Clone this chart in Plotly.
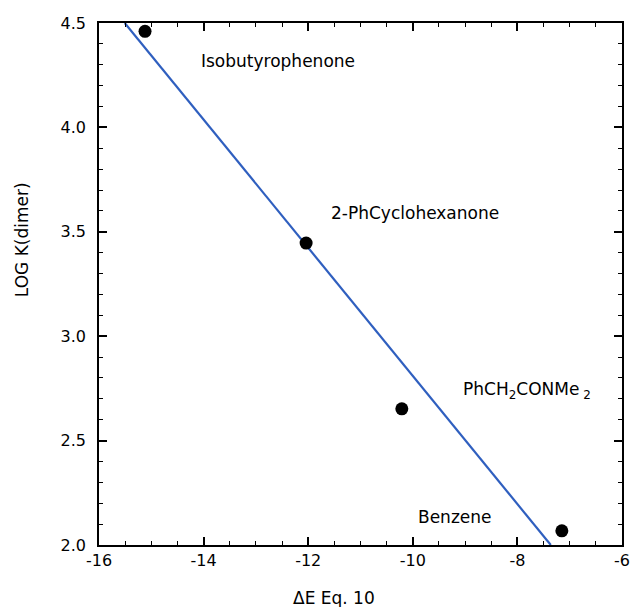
import numpy as np
import plotly.graph_objects as go

# Interaction energy (Eq. 10) vs. log of the dimerisation constant
delta_e = [-15.12, -12.04, -10.21, -7.15]
log_k = [4.46, 3.446, 2.652, 2.068]

# Compound labels and where they sit (data coordinates, left-aligned)
labels = ["Isobutyrophenone", "2-PhCyclohexanone",
          "PhCH<sub>2</sub>CONMe<sub> 2</sub>", "Benzene"]
label_x = [-14.09, -11.60, -9.08, -9.94]
label_y = [4.32, 3.59, 2.74, 2.136]

# Tick positions and labels (plain hyphen minus)
x_ticks = [-16, -14, -12, -10, -8, -6]
x_ticktext = ["-16", "-14", "-12", "-10", "-8", "-6"]
y_ticks = [2.0, 2.5, 3.0, 3.5, 4.0, 4.5]
y_ticktext = ["2.0", "2.5", "3.0", "3.5", "4.0", "4.5"]

# Least-squares line through the points
slope, intercept = np.polyfit(delta_e, log_k, 1)
fit_x = np.array([(4.5 - intercept) / slope, (2.0 - intercept) / slope])
fit_y = slope * fit_x + intercept

FONT = "DejaVu Sans"

fig = go.Figure()
fig.add_trace(go.Scatter(
    x=fit_x, y=fit_y, mode="lines",
    line=dict(color="#2f5fbf", width=2.2),
    showlegend=False, hoverinfo="skip",
))
fig.add_trace(go.Scatter(
    x=delta_e, y=log_k, mode="markers",
    marker=dict(color="black", size=13),
    showlegend=False,
))

for txt, lx, ly in zip(labels, label_x, label_y):
    fig.add_annotation(x=lx, y=ly, text=txt, showarrow=False,
                       xanchor="left", yanchor="middle",
                       font=dict(family=FONT, size=17, color="black"))

# Axis titles placed as free text
fig.add_annotation(x=-11.5, y=0, xref="x", yref="paper", text="ΔE Eq. 10",
                   showarrow=False, yanchor="middle", yshift=-53,
                   font=dict(family=FONT, size=17, color="black"))
fig.add_annotation(x=0, y=3.46, xref="paper", yref="y", text="LOG K(dimer)",
                   showarrow=False, textangle=-90, xanchor="center",
                   xshift=-77,
                   font=dict(family=FONT, size=17, color="black"))

axis_common = dict(
    showgrid=False, zeroline=False, automargin=False,
    showline=True, linecolor="black", linewidth=1.6,
    mirror="allticks", ticks="inside", ticklen=8, tickwidth=1.6,
    tickcolor="black",
    tickfont=dict(family=FONT, size=16, color="black"),
)

fig.update_xaxes(range=[-16, -6], tickmode="array", tickvals=x_ticks,
                 ticktext=x_ticktext,
                 minor=dict(dtick=0.5, tick0=-16, ticks="inside", ticklen=4,
                            tickwidth=1.4, tickcolor="black"),
                 **axis_common)
fig.update_yaxes(range=[2.0, 4.5], tickmode="array", tickvals=y_ticks,
                 ticktext=y_ticktext, ticklabelstandoff=8,
                 minor=dict(dtick=0.1, tick0=2.0, ticks="inside", ticklen=4,
                            tickwidth=1.4, tickcolor="black"),
                 **axis_common)

fig.update_layout(
    width=633, height=607,
    margin=dict(l=99, r=11, t=23, b=62),
    plot_bgcolor="white", paper_bgcolor="white",
    font=dict(family=FONT, color="black"),
)

fig.write_html("out.html")
